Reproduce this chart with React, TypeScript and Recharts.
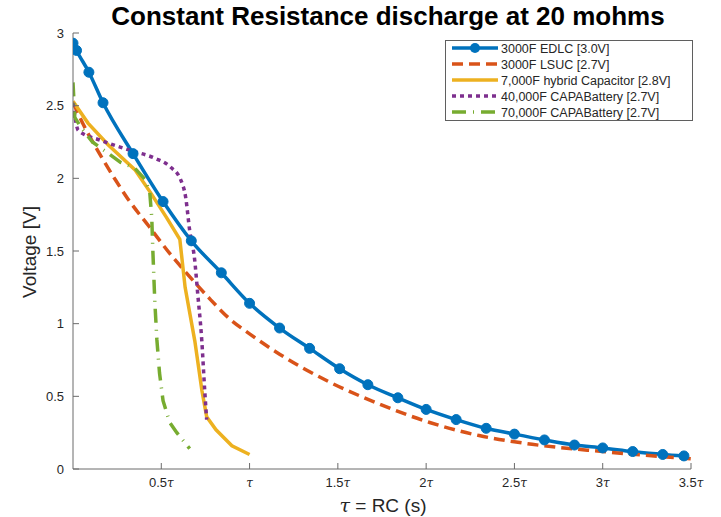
import { LineChart, Line, XAxis, YAxis, Legend } from "recharts";

// tick positions (multiples of tau) and voltage ticks
const xTicks = [0.5, 1, 1.5, 2, 2.5, 3, 3.5];
const yTicks = [0, 0.5, 1, 1.5, 2, 2.5, 3];

// [tau, volts]
const edlc3000 = [
  [0, 2.93], [0.02, 2.88], [0.09, 2.73], [0.17, 2.52], [0.34, 2.17], [0.51, 1.84],
  [0.67, 1.57], [0.84, 1.35], [1.0, 1.14], [1.17, 0.97], [1.34, 0.83], [1.51, 0.69],
  [1.67, 0.58], [1.84, 0.49], [2.0, 0.41], [2.17, 0.34], [2.34, 0.28], [2.5, 0.24],
  [2.67, 0.2], [2.84, 0.165], [3.0, 0.145], [3.17, 0.12], [3.34, 0.1], [3.46, 0.09],
];

const lsuc3000 = [
  [0, 2.52], [0.08, 2.32], [0.16, 2.15], [0.24, 1.99], [0.31, 1.86], [0.43, 1.67],
  [0.55, 1.48], [0.62, 1.38], [0.76, 1.19], [0.89, 1.03], [1.0, 0.93], [1.17, 0.79],
  [1.45, 0.6], [1.73, 0.45], [2.02, 0.32], [2.3, 0.23], [2.6, 0.17], [3.0, 0.12], [3.5, 0.07],
];

const hybrid7000 = [
  [0, 2.53], [0.085, 2.38], [0.2, 2.23], [0.35, 2.06], [0.44, 1.9], [0.53, 1.73],
  [0.605, 1.58], [0.635, 1.25], [0.69, 0.88], [0.73, 0.54], [0.757, 0.36], [0.81, 0.27],
  [0.9, 0.16], [1.0, 0.1],
];

const capa40000 = [
  [0, 2.52], [0.03, 2.33], [0.16, 2.26], [0.33, 2.19], [0.46, 2.14], [0.55, 2.08],
  [0.61, 1.99], [0.638, 1.87], [0.661, 1.64], [0.689, 1.44], [0.706, 1.21], [0.729, 0.89],
  [0.746, 0.54], [0.757, 0.34],
];

const capa70000 = [
  [0, 2.66], [0.01, 2.42], [0.045, 2.35], [0.11, 2.25], [0.27, 2.11], [0.35, 2.07],
  [0.41, 1.99], [0.435, 1.9], [0.446, 1.73], [0.452, 1.51], [0.463, 1.16], [0.475, 0.89],
  [0.49, 0.66], [0.51, 0.47], [0.548, 0.32], [0.588, 0.25], [0.661, 0.14],
];

const FONT = "'Liberation Sans', Arial, Helvetica, sans-serif";
const AXIS = "#6b6b6b";
const TEXT = "#262626";

type Series = {
  key: string;
  name: string;
  color: string;
  dash?: string;
  marker?: boolean;
  curve: "monotone" | "linear";
  points: number[][];
};

const series: Series[] = [
  { key: "edlc", name: "3000F EDLC [3.0V]", color: "#0072BD", marker: true, curve: "monotone", points: edlc3000 },
  { key: "lsuc", name: "3000F LSUC [2.7V]", color: "#D95319", dash: "11 6", curve: "monotone", points: lsuc3000 },
  { key: "hybrid", name: "7,000F hybrid Capacitor [2.8V]", color: "#EDB120", curve: "linear", points: hybrid7000 },
  { key: "capa40", name: "40,000F CAPABattery [2.7V]", color: "#7E2F8E", dash: "4 4", curve: "monotone", points: capa40000 },
  { key: "capa70", name: "70,000F CAPABattery [2.7V]", color: "#77AC30", dash: "14 7 1 7", curve: "linear", points: capa70000 },
];

const toRows = (pts: number[][]) => pts.map(([t, v]) => ({ t, v }));

function TauTick(props: any) {
  const { x, y, payload } = props;
  const v = payload.value;
  return (
    <text x={x} y={y} dy={12} textAnchor="middle" fontSize={13} fill={TEXT} fontFamily={FONT}>
      {v === 1 ? "" : String(v)}
      <tspan fontStyle="italic" fontFamily="'DejaVu Serif', serif" fontSize={12}>τ</tspan>
    </text>
  );
}

function LegendBox() {
  return (
    <svg width={248} height={81} style={{ display: "block" }}>
      <rect x={0.5} y={0.5} width={247} height={80} fill="#fff" stroke="#5f5f5f" />
      {series.map((s, i) => {
        const y = 8 + i * 16;
        return (
          <g key={s.key}>
            <line x1={7} x2={53} y1={y} y2={y} stroke={s.color} strokeWidth={3.5} strokeDasharray={s.dash} />
            {s.marker && <circle cx={30} cy={y} r={5} fill={s.color} />}
            <text x={56} y={y} dy="0.36em" fontSize={12.5} fill={TEXT} fontFamily={FONT}>
              {s.name}
            </text>
          </g>
        );
      })}
    </svg>
  );
}

export default function App() {
  return (
    <div style={{ position: "absolute", left: 0, top: 0, width: 721, height: 517, background: "#fff", fontFamily: FONT }}>
      <div
        style={{
          position: "absolute", left: 79, top: 1, width: 618, textAlign: "center",
          fontSize: 26, fontWeight: "bold", color: "#000", lineHeight: "30px",
        }}
      >
        Constant Resistance discharge at 20 mohms
      </div>
      <div
        style={{
          position: "absolute", left: 30, top: 252, transform: "translate(-50%, -50%) rotate(-90deg)",
          fontSize: 19, color: TEXT, whiteSpace: "nowrap",
        }}
      >
        Voltage [V]
      </div>
      <div
        style={{
          position: "absolute", left: 383, top: 505, transform: "translate(-50%, -50%)",
          fontSize: 19, color: TEXT, whiteSpace: "nowrap",
        }}
      >
        <span style={{ fontStyle: "italic", fontFamily: "'DejaVu Serif', serif" }}>τ</span> = RC (s)
      </div>
      <LineChart width={721} height={517} margin={{ top: 33, right: 30, bottom: 18, left: 43 }}>
        <XAxis
          type="number"
          dataKey="t"
          domain={[0, 3.5]}
          ticks={xTicks}
          interval={0}
          allowDataOverflow
          height={30}
          tickSize={-6}
          tickMargin={12}
          stroke={AXIS}
          tick={<TauTick />}
        />
        <XAxis
          xAxisId="top"
          orientation="top"
          type="number"
          domain={[0, 3.5]}
          ticks={xTicks}
          interval={0}
          height={0}
          tickSize={-6}
          tick={false}
          stroke={AXIS}
        />
        <YAxis
          type="number"
          domain={[0, 3]}
          ticks={yTicks}
          interval={0}
          width={30}
          tickSize={-6}
          tickMargin={15}
          stroke={AXIS}
          tick={{ fontSize: 13, fill: TEXT, fontFamily: FONT }}
        />
        <YAxis
          yAxisId="right"
          orientation="right"
          type="number"
          domain={[0, 3]}
          ticks={yTicks}
          interval={0}
          width={0}
          tickSize={-6}
          tick={false}
          stroke={AXIS}
        />
        {series.map((s) => (
          <Line
            key={s.key}
            data={toRows(s.points)}
            dataKey="v"
            name={s.name}
            type={s.curve}
            stroke={s.color}
            strokeWidth={3.5}
            strokeDasharray={s.dash}
            dot={s.marker ? { r: 5, fill: s.color, stroke: s.color, strokeWidth: 1 } : false}
            activeDot={false}
            isAnimationActive={false}
          />
        ))}
        <Legend
          layout="vertical"
          align="center"
          verticalAlign="middle"
          wrapperStyle={{ position: "absolute", left: 445, top: 40, width: 248, height: 81 }}
          content={() => <LegendBox />}
        />
      </LineChart>
    </div>
  );
}
